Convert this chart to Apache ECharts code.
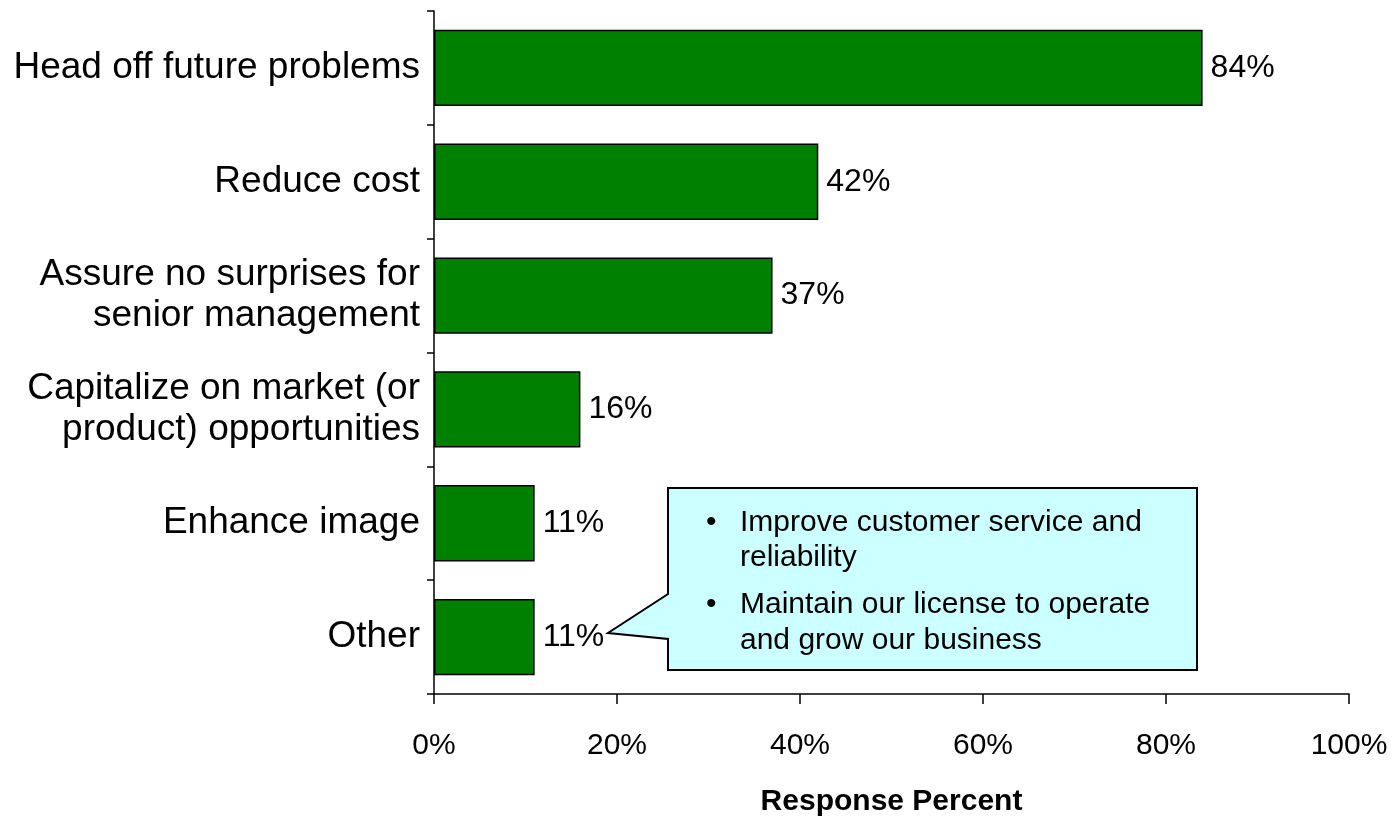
<!DOCTYPE html>
<html>
<head>
<meta charset="utf-8">
<script src="https://cdn.jsdelivr.net/npm/echarts@6/dist/echarts.min.js"></script>
<style>
  html, body { margin: 0; padding: 0; background: #ffffff; }
  #chart { width: 1393px; height: 822px; }
</style>
</head>
<body>
<div id="chart"></div>
<script>
// Reasons for the programme, share of respondents (%)
const categories = [
  'Head off future problems',
  'Reduce cost',
  'Assure no surprises for\nsenior management',
  'Capitalize on market (or\nproduct) opportunities',
  'Enhance image',
  'Other'
];
const responsePercent = [84, 42, 37, 16, 11, 11];
const xTicks = [0, 20, 40, 60, 80, 100];
const calloutLines = [
  ['Improve customer service and', 'reliability'],
  ['Maintain our license to operate', 'and grow our business']
];

const FONT = '"Liberation Sans", Arial, Helvetica, sans-serif';
const chart = echarts.init(document.getElementById('chart'), null, { renderer: 'canvas' });

// Speech-bubble note attached to the "Other" bar
const box = { x: 668, y: 488, w: 529, h: 182 };
const tip = [608, 633];
const bubblePoints = [
  [box.x, box.y], [box.x + box.w, box.y], [box.x + box.w, box.y + box.h],
  [box.x, box.y + box.h], [box.x, 639], tip, [box.x, 594]
];
const noteText = [];
const lineY = [[522, 557], [604, 640]];
calloutLines.forEach((para, i) => {
  noteText.push({
    type: 'text', left: 706, top: lineY[i][0] - 14, z: 11,
    style: { text: '•', font: '30px ' + FONT, fill: '#000' }
  });
  para.forEach((t, j) => {
    noteText.push({
      type: 'text', left: 740, top: lineY[i][j] - 14, z: 11,
      style: { text: t, font: '30px ' + FONT, fill: '#000' }
    });
  });
});

chart.setOption({
  animation: false,
  backgroundColor: '#ffffff',
  grid: { left: 434, right: 44, top: 11, bottom: 128, containLabel: false },
  xAxis: {
    type: 'value',
    min: 0, max: 100, interval: 20,
    name: 'Response Percent',
    nameLocation: 'middle',
    nameGap: 93,
    nameTextStyle: { fontFamily: FONT, fontSize: 30, fontWeight: 'bold', color: '#000' },
    axisLine: { show: true, lineStyle: { color: '#000', width: 1.5 } },
    axisTick: { show: true, length: 10, lineStyle: { color: '#000', width: 1.5 } },
    splitLine: { show: false },
    axisLabel: {
      margin: 37,
      fontFamily: FONT, fontSize: 30, color: '#000',
      formatter: v => (xTicks.includes(v) ? v + '%' : '')
    }
  },
  yAxis: {
    type: 'category',
    data: categories,
    inverse: true,
    axisLine: { show: true, lineStyle: { color: '#000', width: 1.5 } },
    axisTick: { show: true, length: 7, lineStyle: { color: '#000', width: 1.5 } },
    axisLabel: {
      margin: 14,
      fontFamily: FONT, fontSize: 37, color: '#000',
      lineHeight: 41, align: 'right'
    }
  },
  series: [{
    type: 'bar',
    data: responsePercent,
    barCategoryGap: '33%',
    itemStyle: { color: '#008000', borderColor: '#000', borderWidth: 1.5 },
    label: {
      show: true, position: 'right', distance: 8,
      fontFamily: FONT, fontSize: 32, color: '#000',
      formatter: p => p.value + '%'
    }
  }],
  graphic: [
    {
      type: 'polygon', z: 10,
      shape: { points: bubblePoints },
      style: { fill: '#ccffff', stroke: '#000', lineWidth: 2 }
    }
  ].concat(noteText)
});
</script>
</body>
</html>
